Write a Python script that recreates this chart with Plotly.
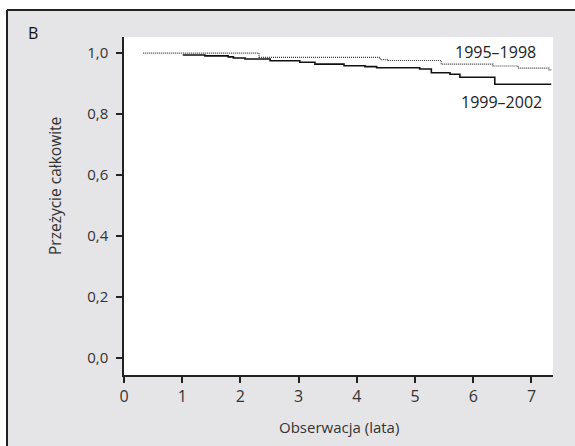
import plotly.graph_objects as go

# Data (Kaplan-Meier step curves)
t_9598 = [0.33, 2.32, 4.40, 4.54, 5.45, 6.34, 6.77, 7.30, 7.34]
s_9598 = [1.000, 0.986, 0.979, 0.976, 0.964, 0.958, 0.951, 0.945, 0.945]

t_9902 = [1.01, 1.39, 1.79, 1.88, 2.08, 2.51, 3.02, 3.28, 3.78, 4.14, 4.34,
          5.08, 5.28, 5.60, 5.77, 6.37, 7.34]
s_9902 = [0.994, 0.991, 0.988, 0.984, 0.981, 0.975, 0.970, 0.964, 0.959, 0.956, 0.952,
          0.948, 0.936, 0.931, 0.921, 0.898, 0.898]

x_ticks = [0, 1, 2, 3, 4, 5, 6, 7]
y_ticks = [0.0, 0.2, 0.4, 0.6, 0.8, 1.0]
y_ticktext = ["0,0", "0,2", "0,4", "0,6", "0,8", "1,0"]

label_9598 = "1995–1998"
label_9902 = "1999–2002"
x_title = "Obserwacja (lata)"
y_title = "Przeżycie całkowite"
panel = "B"

W, H = 575, 446
L, R, T, B = 124, 553, 37, 375
pw, ph = R - L, B - T

def px(x):
    return (x - L) / pw

def py(y):
    return (B - y) / ph

FONT = "Open Sans"
GREY = "#e5e5e7"
TXT = "#333333"

fig = go.Figure()
fig.add_trace(go.Scatter(x=t_9598, y=s_9598, mode="lines", line_shape="hv",
                         line=dict(color="#333333", width=1.2, dash="1px,1px"),
                         showlegend=False, hoverinfo="skip"))
fig.add_trace(go.Scatter(x=t_9902, y=s_9902, mode="lines", line_shape="hv",
                         line=dict(color="#111111", width=1.6),
                         showlegend=False, hoverinfo="skip"))

shapes = [
    # white strips outside the panel box
    dict(type="rect", xref="paper", yref="paper", x0=px(-5), x1=px(W + 5), y0=py(10), y1=py(-5),
         fillcolor="white", line=dict(width=0), layer="below"),
    dict(type="rect", xref="paper", yref="paper", x0=px(-5), x1=px(7), y0=py(H + 5), y1=py(-5),
         fillcolor="white", line=dict(width=0), layer="below"),
    # box borders
    dict(type="line", xref="paper", yref="paper", x0=px(7), x1=px(W + 5), y0=py(10), y1=py(10),
         line=dict(color="#222222", width=2)),
    dict(type="line", xref="paper", yref="paper", x0=px(7), x1=px(7), y0=py(10), y1=py(H + 5),
         line=dict(color="#222222", width=2)),
    # y axis line extension below x axis
    dict(type="line", xref="paper", yref="paper", x0=0, x1=0, y0=py(382), y1=0,
         line=dict(color="#222222", width=1.5)),
]

annotations = [
    dict(text=panel, xref="paper", yref="paper", x=px(33), y=py(33), showarrow=False,
         xanchor="center", yanchor="middle", font=dict(family=FONT, size=16, color="#111")),
    dict(text=label_9598, xref="paper", yref="paper", x=px(495), y=py(52), showarrow=False,
         xanchor="center", yanchor="middle", font=dict(family=FONT, size=16, color="#222")),
    dict(text=label_9902, xref="paper", yref="paper", x=px(501), y=py(102), showarrow=False,
         xanchor="center", yanchor="middle", font=dict(family=FONT, size=16, color="#222")),
    dict(text=x_title, xref="paper", yref="paper", x=px(339), y=py(427), showarrow=False,
         xanchor="center", yanchor="middle", font=dict(family=FONT, size=15, color=TXT)),
    dict(text=y_title, xref="paper", yref="paper", x=px(55), y=py(186), showarrow=False,
         textangle=-90, xanchor="center", yanchor="middle", font=dict(family=FONT, size=15.5, color=TXT)),
]

fig.update_layout(
    width=W, height=H,
    margin=dict(l=L, r=W - R, t=T, b=H - B, pad=0),
    paper_bgcolor=GREY, plot_bgcolor="white",
    shapes=shapes, annotations=annotations,
    font=dict(family=FONT, size=15, color=TXT),
    xaxis=dict(range=[0, 7.37], tickvals=x_ticks, ticks="outside", ticklen=6, tickwidth=1.5,
               tickcolor="#222", showline=True, linecolor="#222", linewidth=1.5,
               showgrid=False, zeroline=False, tickfont=dict(family=FONT, size=16, color=TXT),
               fixedrange=True),
    yaxis=dict(range=[-0.055, 1.053], tickvals=y_ticks, ticktext=y_ticktext, ticks="outside",
               ticklen=6, tickwidth=1.5, tickcolor="#222", showline=True, linecolor="#222",
               linewidth=1.5, showgrid=False, zeroline=False,
               tickfont=dict(family=FONT, size=15, color=TXT), ticklabelstandoff=5,
               fixedrange=True),
)

fig.write_html("out.html", config={"displayModeBar": False},
               post_script="document.body.style.margin='0';document.body.style.overflow='hidden';")
